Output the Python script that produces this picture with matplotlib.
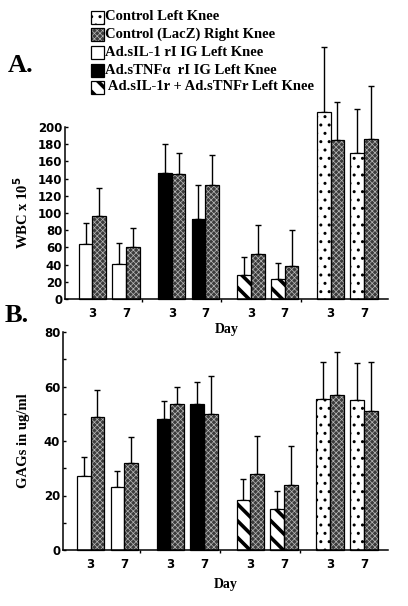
import numpy as np
import matplotlib
matplotlib.use("Agg")
import matplotlib.pyplot as plt
from matplotlib.patches import Rectangle

# groups: sIL-1 rI IG, sTNFa rI IG, sIL-1r + sTNFr, control ; days 3 and 7
days = ["3", "7"]
# left knee (treated) bar of each pair, then LacZ right knee
wbc_left = [[64, 41], [146, 93], [28, 23], [218, 170]]
wbc_left_err = [[24, 24], [34, 40], [21, 19], [75, 51]]
wbc_right = [[96, 60], [145, 133], [52, 38], [185, 186]]
wbc_right_err = [[33, 22], [25, 34], [34, 42], [44, 62]]

gag_left = [[27, 23], [48, 53.5], [18.5, 15], [55.5, 55]]
gag_left_err = [[7, 6], [6.5, 8], [7.5, 6.5], [13.5, 13.5]]
gag_right = [[48.8, 32], [53.5, 50], [28, 24], [57, 51]]
gag_right_err = [[10, 9.5], [6.5, 14], [14, 14], [15.5, 18]]

legend_labels = ["Control Left Knee", "Control (LacZ) Right Knee",
                 "Ad.sIL-1 rI IG Left Knee", "Ad.sTNF\u03b1  rI IG Left Knee",
                 " Ad.sIL-1r + Ad.sTNFr Left Knee"]

# fill styles: (face, hatch, hatch colour, hatch lw)
S_CTRL = ("white", "..", "black", 1.0)
S_LACZ = ("#3c3c3c", "xxxxxx", "#b8b8b8", 0.5)
S_IL1 = ("white", "", "black", 1.0)
S_TNF = ("black", "", "black", 1.0)
S_COMB = ("white", "\\\\", "black", 2.6)
left_styles = [S_IL1, S_TNF, S_COMB, S_CTRL]

serif = ["Liberation Serif", "DejaVu Serif"]
sans = ["DejaVu Sans"]

W = 1.0
GROUP = 5.8
PAIR = 2.45
X0 = 1.5


def draw_bar(ax, x, h, style):
    face, hatch, hcol, hlw = style
    with plt.rc_context({"hatch.linewidth": hlw}):
        ax.bar(x, h, W, color=face, hatch=hatch, edgecolor=hcol, linewidth=0,
               clip_on=False, zorder=2)
    ax.bar(x, h, W, fill=False, edgecolor="black", linewidth=0.9,
           clip_on=False, zorder=3)


def panel(ax, left, left_err, right, right_err, ymax, yticks, minor):
    ticks = []
    for g in range(4):
        for d in range(2):
            xl = X0 + g * GROUP + d * PAIR
            xr = xl + W
            draw_bar(ax, xl, left[g][d], left_styles[g])
            draw_bar(ax, xr, right[g][d], S_LACZ)
            for x, v, e in [(xl, left[g][d], left_err[g][d]),
                            (xr, right[g][d], right_err[g][d])]:
                ax.errorbar(x, v, yerr=[[0], [e]], color="black", lw=1.0,
                            capsize=2, capthick=1.0, clip_on=False, zorder=1)
            ticks.append(xl + 0.5)
    ax.set_xlim(0, 23.6)
    ax.set_ylim(0, ymax)
    ax.patch.set_visible(False)
    ax.set_xticks(ticks)
    ax.set_xticklabels(days * 4, fontfamily=sans, fontweight="bold", fontsize=8.5)
    ax.tick_params(axis="x", which="major", length=0, pad=6)
    seps = [X0 + g * GROUP + PAIR + 1.5 + (GROUP - PAIR - 2) / 2 - 0.5 for g in range(3)]
    ax.set_xticks(seps, minor=True)
    ax.tick_params(axis="x", which="minor", length=2, direction="out", width=1)
    ax.set_yticks(yticks)
    ax.set_yticklabels([str(t) for t in yticks], fontfamily=sans,
                       fontweight="bold", fontsize=8.5)
    ax.set_yticks(minor, minor=True)
    ax.tick_params(axis="y", which="both", direction="in", length=2.5, width=1, pad=2)
    for s in ["top", "right"]:
        ax.spines[s].set_visible(False)
    for s in ["left", "bottom"]:
        ax.spines[s].set_linewidth(1.1)
    ax.spines["left"].set_bounds(0, yticks[-1])
    ax.set_xlabel("Day", fontfamily=serif, fontweight="bold", fontsize=10, labelpad=2)


fig = plt.figure(figsize=(4.08, 6.06), dpi=100)

axA = fig.add_axes([65 / 408, 1 - 299 / 606, 323 / 408, 176.3 / 606])
panel(axA, wbc_left, wbc_left_err, wbc_right, wbc_right_err, 205,
      list(range(0, 201, 20)), [])
axA.set_ylabel("WBC x 10$^{\\mathbf{5}}$", fontfamily=serif, fontweight="bold",
               fontsize=10.5)
axA.yaxis.set_label_coords(-0.105, 0.49)

axB = fig.add_axes([63 / 408, 1 - 550 / 606, 325 / 408, 218 / 606])
panel(axB, gag_left, gag_left_err, gag_right, gag_right_err, 80,
      [0, 20, 40, 60, 80], [10, 30, 50, 70])
axB.set_ylabel("GAGs in ug/ml", fontfamily=serif, fontweight="bold", fontsize=10.5)
axB.yaxis.set_label_coords(-0.1, 0.5)
axB.xaxis.labelpad = 5

fig.text(8 / 408, 1 - 72 / 606, "A.", fontfamily=serif, fontweight="bold",
         fontsize=19, va="baseline")
fig.text(5 / 408, 1 - 322 / 606, "B.", fontfamily=serif, fontweight="bold",
         fontsize=19, va="baseline")

# legend
leg_styles = [S_CTRL, S_LACZ, S_IL1, S_TNF, S_COMB]
rows = [17, 34, 52, 70, 87]
for lab, st, yc in zip(legend_labels, leg_styles, rows):
    face, hatch, hcol, hlw = st
    x0, y0 = 91 / 408, 1 - (yc + 6.5) / 606
    w, h = 13 / 408, 13 / 606
    with plt.rc_context({"hatch.linewidth": hlw}):
        fig.add_artist(Rectangle((x0, y0), w, h, transform=fig.transFigure,
                                 facecolor=face, hatch=hatch, edgecolor=hcol, lw=0))
    fig.add_artist(Rectangle((x0, y0), w, h, transform=fig.transFigure,
                             fill=False, edgecolor="black", lw=0.9))
    fig.text(105 / 408, 1 - yc / 606, lab, fontfamily=serif, fontweight="bold",
             fontsize=10.5, va="center")

fig.savefig("out.png", dpi=100)
